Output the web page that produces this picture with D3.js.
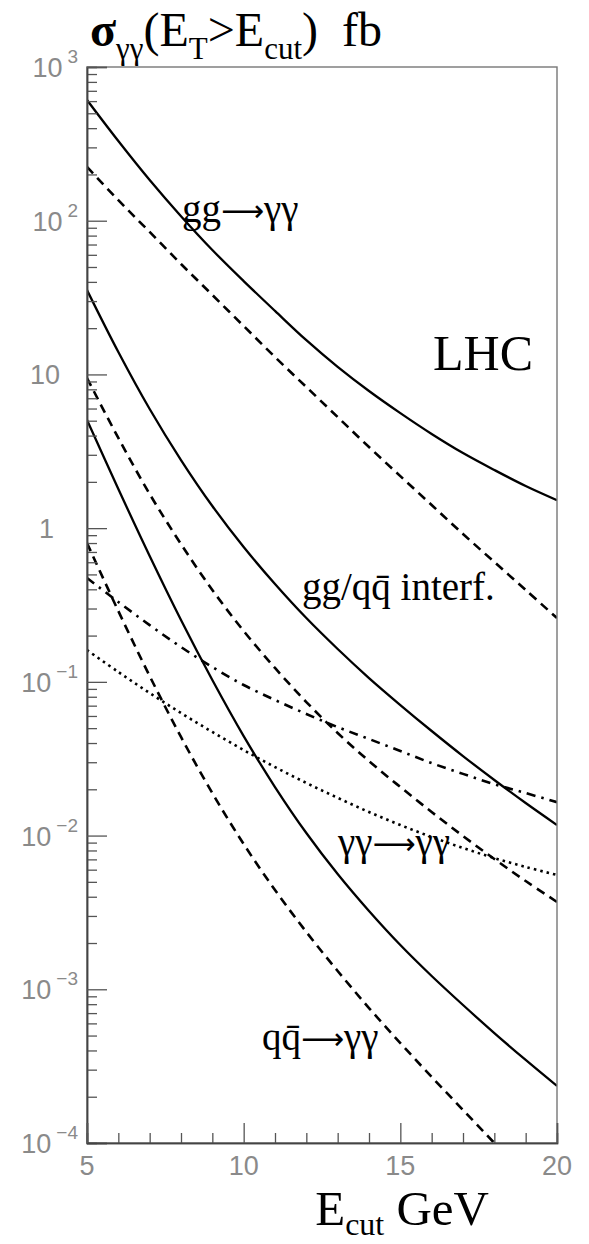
<!DOCTYPE html>
<html>
<head>
<meta charset="utf-8">
<script src="https://cdn.jsdelivr.net/npm/d3@7"></script>
<style>
  body { margin: 0; background: #fff; }
  svg { display: block; }
</style>
</head>
<body>
<svg id="chart"></svg>
<script>
// E_cut values (GeV)
const eCut = [5, 6, 7, 8, 9, 10, 11, 12, 13, 14, 15, 16, 17, 18, 19, 20];

// cross sections in fb
const ggTotal   = [610, 330, 184, 107, 64.5, 40.5, 25.9, 16.7, 11.2, 7.8, 5.6, 4.1, 3.08, 2.39, 1.88, 1.52];
const ggBorn    = [224, 136, 84.5, 52.3, 32.9, 20.65, 12.98, 8.28, 5.28, 3.37, 2.18, 1.414, 0.916, 0.602, 0.396, 0.260];
const interfTot = [35.4, 14.0, 5.96, 2.775, 1.393, 0.754, 0.433, 0.260, 0.1636, 0.1059, 0.0707, 0.0479, 0.0329, 0.0230, 0.01628, 0.01171];
const interfLO  = [9.48, 3.86, 1.668, 0.788, 0.396, 0.2142, 0.1231, 0.0739, 0.0465, 0.0305, 0.0207, 0.01423, 0.00993, 0.00704, 0.00506, 0.00370];
const qqTotal   = [5.05, 1.797, 0.659, 0.2526, 0.1028, 0.0444, 0.0207, 0.01039, 0.00562, 0.00323, 0.00194, 0.00122, 0.000790, 0.000519, 0.000347, 0.000235];
const qqBorn    = [0.800, 0.289, 0.1091, 0.0438, 0.0189, 0.00881, 0.00442, 0.00236, 0.001315, 0.000755, 0.000447, 0.000269, 0.000164, 0.0001];
const dashDot   = [0.474, 0.331, 0.234, 0.1685, 0.1249, 0.0954, 0.0762, 0.0618, 0.0508, 0.0425, 0.0355, 0.0296, 0.0252, 0.0216, 0.0189, 0.0165];
const aaToAa    = [0.161, 0.116, 0.0846, 0.0627, 0.0472, 0.0360, 0.0279, 0.0220, 0.0176, 0.01423, 0.01171, 0.00979, 0.00830, 0.00714, 0.00625, 0.00554];

const xMajor = [5, 10, 15, 20];
const yDecades = [3, 2, 1, 0, -1, -2, -3, -4];

const width = 589, height = 1244;
const serif = '"Liberation Serif", "Times New Roman", Times, serif';
const sans = '"Liberation Sans", Arial, Helvetica, sans-serif';

const svg = d3.select('#chart')
  .attr('width', width)
  .attr('height', height)
  .attr('viewBox', `0 0 ${width} ${height}`);

svg.append('rect').attr('width', width).attr('height', height).attr('fill', '#fff');

const x = d3.scaleLinear().domain([5, 20]).range([87, 557]);
const y = d3.scaleLog().domain([1e-4, 1e3]).range([1143, 67]);

svg.append('clipPath').attr('id', 'plot')
  .append('rect')
  .attr('x', x(5)).attr('y', y(1e3))
  .attr('width', x(20) - x(5)).attr('height', y(1e-4) - y(1e3));

// curves
const series = [
  { v: ggTotal,   dash: null },
  { v: ggBorn,    dash: '9,6' },
  { v: interfTot, dash: null },
  { v: interfLO,  dash: '9,6' },
  { v: qqTotal,   dash: null },
  { v: qqBorn,    dash: '9,6' },
  { v: dashDot,   dash: '9,6,2.5,6' },
  { v: aaToAa,    dash: '2.5,4' }
];

const line = d3.line()
  .x(d => x(d[0]))
  .y(d => y(d[1]))
  .curve(d3.curveCatmullRom.alpha(0.5));

const curves = svg.append('g').attr('clip-path', 'url(#plot)');
series.forEach(s => {
  curves.append('path')
    .datum(s.v.map((v, i) => [eCut[i], v]))
    .attr('d', line)
    .attr('fill', 'none')
    .attr('stroke', '#000')
    .attr('stroke-width', s.dash ? 2.6 : 2.3)
    .attr('stroke-dasharray', s.dash);
});

// frame
svg.append('rect')
  .attr('x', x(5)).attr('y', y(1e3))
  .attr('width', x(20) - x(5)).attr('height', y(1e-4) - y(1e3))
  .attr('fill', 'none').attr('stroke', '#777').attr('stroke-width', 1.4);

// y axis ticks (inside, pointing right)
const yMajorVals = yDecades.map(k => Math.pow(10, k));
const yMinorVals = [];
yDecades.slice(1).forEach(k => {
  for (let m = 2; m <= 9; m++) yMinorVals.push(m * Math.pow(10, k));
});

const yAxisMinor = svg.append('g')
  .attr('transform', `translate(${x(5)},0)`)
  .call(d3.axisRight(y).tickValues(yMinorVals).tickSize(10).tickFormat(''));
const yAxisMajor = svg.append('g')
  .attr('transform', `translate(${x(5)},0)`)
  .call(d3.axisRight(y).tickValues(yMajorVals).tickSize(20).tickFormat(''));

// x axis ticks (inside, pointing up)
const xMinorVals = eCut.filter(v => !xMajor.includes(v));
const xAxisMinor = svg.append('g')
  .attr('transform', `translate(0,${y(1e-4)})`)
  .call(d3.axisTop(x).tickValues(xMinorVals).tickSize(10).tickFormat(''));
const xAxisMajor = svg.append('g')
  .attr('transform', `translate(0,${y(1e-4)})`)
  .call(d3.axisTop(x).tickValues(xMajor).tickSize(20).tickFormat(''));

[yAxisMinor, yAxisMajor, xAxisMinor, xAxisMajor].forEach(g => {
  g.select('.domain').attr('stroke', '#444').attr('stroke-width', 1.5);
  g.selectAll('.tick line').attr('stroke', '#555').attr('stroke-width', 1.3);
});

// x tick labels
svg.append('g').selectAll('text')
  .data(xMajor)
  .join('text')
  .attr('x', d => x(d))
  .attr('y', y(1e-4) + 32)
  .attr('text-anchor', 'middle')
  .attr('font-family', sans)
  .attr('font-size', 27)
  .attr('fill', '#8a8a8a')
  .text(d => d);

// y tick labels
const yLab = svg.append('g')
  .attr('font-family', sans)
  .attr('fill', '#8a8a8a');
yDecades.forEach(k => {
  const yy = y(Math.pow(10, k));
  if (k === 1 || k === 0) {
    yLab.append('text')
      .attr('x', k === 1 ? 60 : 54)
      .attr('y', yy + 10)
      .attr('text-anchor', 'end')
      .attr('font-size', 27)
      .text(k === 1 ? '10' : '1');
  } else {
    const t = yLab.append('text')
      .attr('x', 78)
      .attr('y', yy + 10)
      .attr('text-anchor', 'end');
    t.append('tspan').attr('font-size', 27).text('10');
    t.append('tspan').attr('font-size', 19).attr('dx', 5).attr('dy', -14)
      .text(k < 0 ? '\u2212' + (-k) : String(k));
  }
});

// title
const title = svg.append('text')
  .attr('x', 90).attr('y', 46)
  .attr('font-family', serif)
  .attr('font-size', 48)
  .attr('fill', '#000');
title.append('tspan').attr('font-weight', 'bold').text('σ');
title.append('tspan').attr('font-size', 31).attr('dy', 13).text('γγ');
title.append('tspan').attr('dy', -13).text('(E');
title.append('tspan').attr('font-size', 31).attr('dy', 13).text('T');
title.append('tspan').attr('dy', -13).text('>E');
title.append('tspan').attr('font-size', 31).attr('dy', 13).text('cut');
title.append('tspan').attr('dy', -13).text(')\u00a0\u00a0fb');

// x axis title
const xt = svg.append('text')
  .attr('x', 489).attr('y', 1225)
  .attr('text-anchor', 'end')
  .attr('font-family', serif)
  .attr('font-size', 49)
  .attr('fill', '#000');
xt.append('tspan').text('E');
xt.append('tspan').attr('font-size', 32).attr('dy', 10).text('cut');
xt.append('tspan').attr('dy', -10).text('\u00a0GeV');

// curve labels; the arrow is set in its own tspan so it can be long and thin
const labels = [
  { a: 'gg', b: 'γγ', x: 182, y: 222 },
  { a: 'γγ', b: 'γγ', x: 338, y: 855 },
  { a: 'qq\u0304', b: 'γγ', x: 262, y: 1050 }
];
labels.forEach(d => {
  const t = svg.append('text')
    .attr('x', d.x).attr('y', d.y)
    .attr('font-family', serif)
    .attr('font-size', 39)
    .attr('fill', '#000');
  t.append('tspan').text(d.a);
  t.append('tspan')
    .attr('font-family', '"DejaVu Sans", sans-serif')
    .attr('font-size', 30)
    .attr('dy', -1)
    .text('\u27f6');
  t.append('tspan').attr('dy', 1).text(d.b);
});

svg.append('text')
  .attr('x', 433).attr('y', 370)
  .attr('font-family', serif)
  .attr('font-size', 50)
  .attr('fill', '#000')
  .text('LHC');

svg.append('text')
  .attr('x', 302).attr('y', 600)
  .attr('font-family', serif)
  .attr('font-size', 39)
  .attr('fill', '#000')
  .text('gg/qq\u0304 interf.');
</script>
</body>
</html>
